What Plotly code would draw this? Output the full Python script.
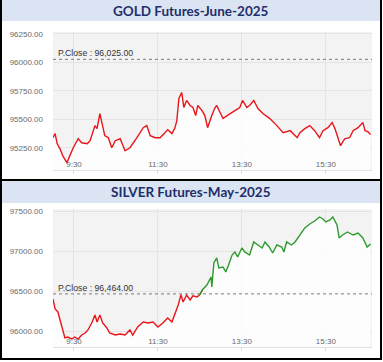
import plotly.graph_objects as go

# ---------------- data ----------------
session_date = "2025-04-15"

gold_title = "GOLD Futures-June-2025"
gold_pclose = 96025.0
gold_times = ["09:00","09:03","09:06","09:10","09:14","09:20","09:24","09:29","09:36","09:41",
              "09:49","09:53","10:00","10:03","10:07","10:10","10:14","10:19","10:24","10:29",
              "10:36","10:43","10:47","10:50","11:00","11:09","11:14","11:19","11:26","11:33",
              "11:40","11:44","11:50","11:54","11:57","12:00","12:04","12:07","12:11","12:16",
              "12:20","12:24","12:27","12:33","12:37","12:41","12:47","12:51","12:54","12:59",
              "13:03","13:09","13:13","13:20","13:27","13:31","13:37","13:41","13:47","13:53",
              "14:00","14:10","14:20","14:29","14:39","14:49","14:53","15:00","15:07","15:14",
              "15:21","15:26","15:33","15:39","15:43","15:47","15:51","15:57","16:04","16:09",
              "16:16","16:23","16:26","16:30","16:34"]
gold_values = [95338,95374,95285,95241,95179,95118,95179,95250,95329,95294,
               95285,95312,95444,95418,95550,95462,95356,95338,95250,95312,
               95329,95224,95241,95250,95338,95426,95444,95356,95338,95338,
               95382,95409,95374,95418,95488,95682,95735,95603,95665,95621,
               95603,95532,95621,95576,95532,95426,95532,95594,95621,95559,
               95506,95532,95550,95576,95603,95665,95603,95621,95665,95594,
               95550,95506,95444,95382,95400,95338,95382,95418,95444,95400,
               95338,95400,95426,95471,95418,95338,95268,95329,95338,95400,
               95426,95471,95400,95391,95365]
gold_yticks = [95250, 95500, 95750, 96000, 96250]
gold_yrange = [95055, 96265]

silver_title = "SILVER Futures-May-2025"
silver_pclose = 96464.0
silver_times = ["09:00","09:03","09:07","09:10","09:13","09:14","09:17","09:21","09:27","09:31",
                "09:36","09:41","09:46","09:50","09:56","10:00","10:03","10:07","10:11","10:17",
                "10:21","10:29","10:36","10:43","10:47","10:50","10:54","11:01","11:09","11:16",
                "11:23","11:30","11:37","11:44","11:50","11:54","11:59","12:03","12:06","12:11",
                "12:16","12:20","12:26","12:30","12:34","12:40","12:46","12:47","12:50","12:54",
                "12:57","13:03","13:07","13:11","13:16","13:20","13:24","13:30","13:34","13:41",
                "13:47","13:53","13:59","14:03","14:09","14:14","14:20","14:27","14:30","14:34",
                "14:41","14:46","14:50","14:56","15:00","15:07","15:14","15:21","15:26","15:30",
                "15:36","15:40","15:46","15:49","15:54","16:01","16:09","16:16","16:23","16:29",
                "16:34"]
silver_values = [96400,96275,96238,96138,96050,96013,95913,95925,95900,95925,
                 95900,95950,95975,96013,96113,96200,96113,96200,96100,96038,
                 95975,95950,95963,95950,95988,96013,95950,96050,96113,96100,
                 96113,96050,96100,96163,96113,96200,96325,96455,96363,96450,
                 96388,96440,96425,96455,96520,96575,96675,96550,96850,96913,
                 96788,96800,96738,96825,96950,96988,96925,97038,96988,96950,
                 97113,97075,97038,97113,97050,96975,97075,97050,96988,97113,
                 97075,97113,97163,97225,97288,97338,97375,97425,97400,97363,
                 97388,97425,97325,97163,97200,97238,97200,97225,97163,97050,
                 97088]
silver_yticks = [96000, 96500, 97000, 97500]
silver_yrange = [95800, 97525]

x_tick_times = ["09:30", "11:30", "13:30", "15:30"]
x_tick_labels = ["9:30", "11:30", "13:30", "15:30"]
x_range_times = ["09:00", "16:36"]

# ---------------- styling ----------------
W, H = 383, 362
RED = "#e8151b"
GREEN = "#2e9a2e"
TITLE_BG = "#dbe4f2"
TITLE_FG = "#1f2f6b"
PLOT_BG = "#f3f3f3"
GRID = "#e4e4e4"
TICK_FONT = dict(family="Liberation Sans, Arial, sans-serif", size=8, color="#6a6a6a")


def ts(t):
    return f"{session_date} {t}"


def fx(p):
    return p / W


def fy(p):
    return 1 - p / H


panels = [
    dict(title=gold_title, pc=gold_pclose, times=gold_times, vals=gold_values,
         yticks=gold_yticks, yrange=gold_yrange, top=32, bottom=170, tb=(0, 21), ax="", ),
    dict(title=silver_title, pc=silver_pclose, times=silver_times, vals=silver_values,
         yticks=silver_yticks, yrange=silver_yrange, top=209, bottom=347, tb=(181, 203), ax="2"),
]

fig = go.Figure()
shapes = []
annotations = []
layout = {}

for p in panels:
    xa = "x" + p["ax"]
    ya = "y" + p["ax"]
    xs = [ts(t) for t in p["times"]]
    v = p["vals"]
    pc = p["pc"]
    # white fill under the line
    fig.add_trace(go.Scatter(x=xs, y=v, mode="lines", line=dict(width=0),
                             fill="tozeroy", fillcolor="rgba(255,255,255,0.82)",
                             hoverinfo="skip", showlegend=False, xaxis=xa, yaxis=ya))
    n = len(v)
    red_y = [v[i] if (v[i] <= pc or (i > 0 and v[i - 1] <= pc)) else None for i in range(n)]
    green_y = [v[i] if (v[i] > pc or (i < n - 1 and v[i + 1] > pc)) else None for i in range(n)]
    fig.add_trace(go.Scatter(x=xs, y=red_y, mode="lines", line=dict(color=RED, width=1.4),
                             connectgaps=False, showlegend=False, xaxis=xa, yaxis=ya))
    if any(g is not None for g in green_y):
        fig.add_trace(go.Scatter(x=xs, y=green_y, mode="lines", line=dict(color=GREEN, width=1.4),
                                 connectgaps=False, showlegend=False, xaxis=xa, yaxis=ya))

    layout["xaxis" + p["ax"]] = dict(
        domain=[fx(53), fx(372)], anchor=ya, type="date", automargin=False,
        range=[ts(x_range_times[0]), ts(x_range_times[1])],
        tickvals=[ts(t) for t in x_tick_times], ticktext=x_tick_labels,
        showgrid=True, gridcolor=GRID, gridwidth=1, zeroline=False,
        showline=True, linecolor="#e2e2e2", linewidth=1,
        ticks="outside", ticklen=3, tickcolor="#d5dbe8",
        ticklabelposition="inside", tickfont=TICK_FONT, fixedrange=True)
    layout["yaxis" + p["ax"]] = dict(
        domain=[fy(p["bottom"]), fy(p["top"])], anchor=xa, automargin=False,
        range=p["yrange"], tickvals=p["yticks"], tickformat=".2f",
        showgrid=True, gridcolor=GRID, gridwidth=1, zeroline=False,
        showline=False, ticks="", ticklabelstandoff=9,
        tickfont=TICK_FONT, fixedrange=True)

    # P.Close dotted line + label
    shapes.append(dict(type="line", xref=xa + " domain", yref=ya, x0=0, x1=1, y0=pc, y1=pc,
                       line=dict(color="#7a7a7a", width=1, dash="dot")))
    annotations.append(dict(xref=xa + " domain", yref=ya, x=0.01, y=pc, xanchor="left",
                            yanchor="bottom", yshift=-1, showarrow=False,
                            text=f"P.Close : {pc:,.2f}",
                            font=dict(family="Liberation Sans, Arial, sans-serif", size=8.7, color="#333333")))

    # title bar
    t0, t1 = p["tb"]
    shapes.append(dict(type="rect", xref="paper", yref="paper", x0=fx(0), x1=fx(381),
                       y0=fy(t1), y1=fy(t0), fillcolor=TITLE_BG, line=dict(width=0), layer="below"))
    annotations.append(dict(xref="paper", yref="paper", x=fx(191), y=fy((t0 + t1) / 2),
                            xanchor="center", yanchor="middle", showarrow=False, text=p["title"],
                            font=dict(family="Lato, sans-serif", size=13.5, color=TITLE_FG, weight=700)))

# black frame lines
for (x0, x1, y0, y1) in [(0, 2, 0, 360), (380, 382, 0, 360), (0, 382, 179, 181), (0, 382, 358, 360)]:
    shapes.append(dict(type="rect", xref="paper", yref="paper", x0=fx(x0), x1=fx(x1),
                       y0=fy(y1), y1=fy(y0), fillcolor="#000000", line=dict(width=0)))

fig.update_layout(
    width=W, height=H, margin=dict(l=0, r=0, t=0, b=0),
    paper_bgcolor="white", plot_bgcolor=PLOT_BG,
    shapes=shapes, annotations=annotations, showlegend=False,
    **layout,
)

fig.write_html("out.html", config={"displayModeBar": False},
               post_script="document.body.style.margin='0';document.body.style.overflow='hidden';")
